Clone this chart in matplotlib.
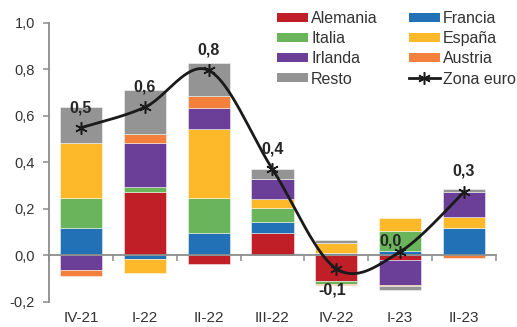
import numpy as np
import matplotlib
matplotlib.use("Agg")
import matplotlib.pyplot as plt
import matplotlib.transforms as mtransforms
from matplotlib.patches import Patch
from matplotlib.lines import Line2D

plt.rcParams['font.family'] = ['Liberation Sans', 'DejaVu Sans']

quarters = ["IV-21", "I-22", "II-22", "III-22", "IV-22", "I-23", "II-23"]

alemania = [0.000, 0.273, -0.039, 0.096, -0.110, -0.022, 0.000]
francia  = [0.115, -0.016, 0.094, 0.047, 0.008, 0.017, 0.118]
italia   = [0.132, 0.022, 0.154, 0.058, -0.012, 0.085, 0.000]
espana   = [0.237, -0.060, 0.295, 0.042, 0.043, 0.059, 0.047]
irlanda  = [-0.062, 0.186, 0.089, 0.086, 0.000, -0.105, 0.108]
austria  = [-0.029, 0.040, 0.052, 0.000, -0.005, -0.005, -0.010]
resto    = [0.155, 0.190, 0.144, 0.040, 0.016, -0.017, 0.010]
zona_euro = [0.548, 0.636, 0.795, 0.370, -0.058, 0.015, 0.272]

series = [
    ("Alemania", alemania, "#C01F28"),
    ("Francia", francia, "#2271B7"),
    ("Italia", italia, "#6AB55B"),
    ("España", espana, "#FDB92A"),
    ("Irlanda", irlanda, "#6B3F98"),
    ("Austria", austria, "#F4803E"),
    ("Resto", resto, "#949494"),
]
colors = {name: color for name, _, color in series}

fig = plt.figure(figsize=(5.17, 3.27), dpi=100)
ax = fig.add_axes([0.0948, 0.0774, 0.8645, 0.8532])

x = np.arange(len(quarters))
width = 0.66
pos_base = np.zeros(len(x))
neg_base = np.zeros(len(x))
for name, vals, color in series:
    v = np.array(vals, dtype=float)
    bottoms = np.where(v >= 0, pos_base, neg_base)
    ax.bar(x, v, width, bottom=bottoms, color=color,
           edgecolor=(1, 1, 1, 0.55), linewidth=0.6, zorder=1)
    pos_base += np.where(v >= 0, v, 0)
    neg_base += np.where(v < 0, v, 0)


def smooth_curve(xs, ys, n=40):
    """Bezier smoothing through the points (Catmull-Rom style control points)."""
    pts = np.column_stack([xs, ys]).astype(float)
    ext = np.vstack([pts[0], pts, pts[-1]])
    out = []
    t = np.linspace(0, 1, n)[:, None]
    for i in range(len(pts) - 1):
        p0, p3 = ext[i + 1], ext[i + 2]
        c1 = p0 + (ext[i + 2] - ext[i]) / 6.0
        c2 = p3 - (ext[i + 3] - ext[i + 1]) / 6.0
        seg = ((1 - t) ** 3) * p0 + 3 * ((1 - t) ** 2) * t * c1 \
            + 3 * (1 - t) * t ** 2 * c2 + t ** 3 * p3
        out.append(seg if i == 0 else seg[1:])
    return np.vstack(out)


curve = smooth_curve(x, zona_euro)
line_color = "#1a1a1a"
ax.plot(curve[:, 0], curve[:, 1], color=line_color, lw=2.0, zorder=4,
        solid_capstyle="round")
ax.plot(x, zona_euro, linestyle="none", marker=(6, 2, 0), markersize=9,
        markeredgewidth=1.1, color=line_color, zorder=5)

# value labels (pixel offsets from the marker)
offsets = [(0, 20), (0, 20), (0, 20), (0, 20), (-4, -21), (-10, 11), (0, 21)]
for xi, yi, (dx, dy) in zip(x, zona_euro, offsets):
    txt = f"{yi:.1f}".replace(".", ",")
    if txt == "-0,0":
        txt = "0,0"
    ax.annotate(txt, (xi, yi), xytext=(dx * 0.72, dy * 0.72),
                textcoords="offset points", ha="center", va="center",
                fontsize=11.5, fontweight="bold", color="#262626", zorder=6)

ax.set_xlim(-0.5, len(x) - 0.5)
ax.set_ylim(-0.2, 1.0)

axis_grey = "#8c8c8c"
for s in ("top", "right"):
    ax.spines[s].set_visible(False)
ax.spines["left"].set_color(axis_grey)
ax.spines["left"].set_linewidth(1.3)
ax.spines["bottom"].set_position(("data", 0))
ax.spines["bottom"].set_color(axis_grey)
ax.spines["bottom"].set_linewidth(1.3)
ax.spines["bottom"].set_zorder(3)

yt = np.arange(-0.2, 1.01, 0.2)
ax.set_yticks(yt)
ax.set_yticklabels([f"{v:.1f}".replace(".", ",") for v in yt])
ax.tick_params(axis="y", direction="out", length=4, width=1.1, color=axis_grey,
               labelsize=10.5, labelcolor="#333333", pad=6)

ax.set_xticks(np.arange(-0.5, len(x), 1.0))
ax.set_xticklabels([])
ax.tick_params(axis="x", direction="out", length=4, width=1.1, color=axis_grey)

trans = mtransforms.blended_transform_factory(ax.transData, ax.transAxes)
for xi, lab in zip(x, quarters):
    ax.text(xi, 0, lab, transform=trans + mtransforms.ScaledTranslation(0, -16 / 100, fig.dpi_scale_trans),
            ha="center", va="center", fontsize=11, color="#333333")

legend_order = ["Alemania", "Italia", "Irlanda", "Resto", "Francia", "España", "Austria"]
handles = [Patch(facecolor=colors[n]) for n in legend_order]
labels = list(legend_order)
handles.append(Line2D([], [], color=line_color, lw=2.0, marker=(6, 2, 0),
                      markersize=9, markeredgewidth=1.1))
labels.append("Zona euro")
leg = ax.legend(handles, labels, ncol=2, loc="upper left",
                bbox_to_anchor=(274 / 517, 1 - 8 / 327), bbox_transform=fig.transFigure,
                frameon=False, fontsize=11.5, handlelength=1.94, handleheight=0.5,
                handletextpad=0.19, columnspacing=1.94, labelspacing=0.32,
                borderpad=0.2, borderaxespad=0)
for t in leg.get_texts():
    t.set_color("#333333")

fig.savefig("out.png", dpi=100)
